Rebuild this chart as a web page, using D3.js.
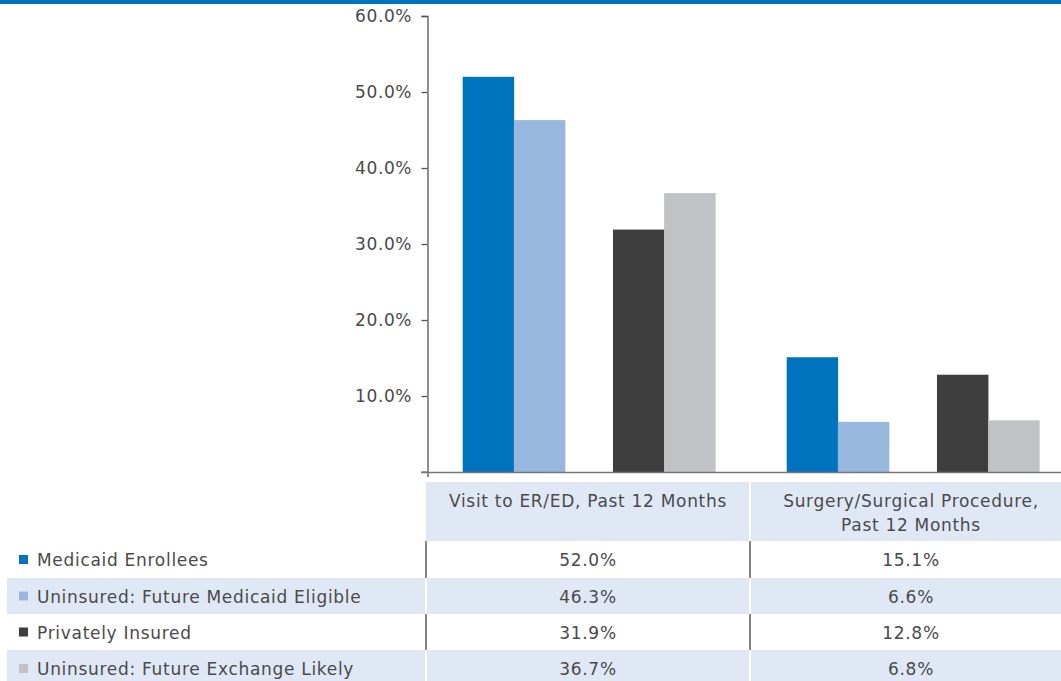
<!DOCTYPE html>
<html>
<head>
<meta charset="utf-8">
<script src="https://cdn.jsdelivr.net/npm/d3@7"></script>
<style>
  html, body { margin: 0; padding: 0; background: #fff; }
  svg { display: block; font-family: "DejaVu Sans", sans-serif; }
</style>
</head>
<body>
<svg id="chart" width="1061" height="681"></svg>
<script>
// Service use in the past 12 months, by coverage group
const categories = ["Visit to ER/ED, Past 12 Months", "Surgery/Surgical Procedure, Past 12 Months"];
const categoryLines = [["Visit to ER/ED, Past 12 Months"], ["Surgery/Surgical Procedure,", "Past 12 Months"]];
const seriesNames = ["Medicaid Enrollees", "Uninsured: Future Medicaid Eligible", "Privately Insured", "Uninsured: Future Exchange Likely"];
const seriesColors = ["#0073be", "#97b7df", "#3e3e3e", "#c1c2c6"];
const medicaidEnrollees = [52.0, 15.1];
const uninsuredMedicaidEligible = [46.3, 6.6];
const privatelyInsured = [31.9, 12.8];
const uninsuredExchangeLikely = [36.7, 6.8];
const values = [medicaidEnrollees, uninsuredMedicaidEligible, privatelyInsured, uninsuredExchangeLikely];
const yTicks = [10, 20, 30, 40, 50, 60];

const svg = d3.select("#chart");
const W = 1061;
const textColor = "#4a4a4a";
const tableBg = "#e1e8f5";
const fontSize = "17px";
const spacing = "0.7px";

// top rule
svg.append("rect").attr("x", 0).attr("y", 0).attr("width", W).attr("height", 4).attr("fill", "#0073be");

// scales
const y = d3.scaleLinear().domain([0, 60]).range([472, 16]);
const x0 = d3.scaleBand().domain(categories).range([427, 1075]).padding(0);
// bars come in two pairs per category
const pairScale = d3.scaleBand().domain([0, 1]).range([0, x0.bandwidth()])
  .paddingInner(0.319).paddingOuter(0.2375);
const memberScale = d3.scaleBand().domain([0, 1]).range([0, pairScale.bandwidth()]).padding(0);

const barX = (ci, si) => x0(categories[ci]) + pairScale(Math.floor(si / 2)) + memberScale(si % 2);

// bars
const barData = [];
values.forEach((arr, si) => arr.forEach((v, ci) => barData.push({ si, ci, v })));
svg.append("g").selectAll("rect").data(barData).join("rect")
  .attr("x", d => barX(d.ci, d.si))
  .attr("y", d => y(d.v))
  .attr("width", memberScale.bandwidth() + 0.3)
  .attr("height", d => y(0) - y(d.v))
  .attr("fill", d => seriesColors[d.si]);

// y axis
const yAxis = d3.axisLeft(y).tickValues(yTicks).tickSize(6).tickPadding(10)
  .tickFormat(d => d3.format(".1f")(d) + "%");
const gy = svg.append("g").attr("transform", "translate(427.5,0)").call(yAxis);
gy.select(".domain").attr("d", "M-6,16.5H0.5V477").attr("stroke", "#555").attr("stroke-width", 1.3);
gy.selectAll(".tick line").attr("stroke", "#555").attr("stroke-width", 1.3);
gy.selectAll(".tick text").attr("fill", textColor).style("font-size", "17px")
  .style("letter-spacing", "0.6px").attr("dx", "0.6px")
  .style("font-family", "'DejaVu Sans', sans-serif");
// zero tick
gy.append("line").attr("x1", -6).attr("x2", 0).attr("y1", y(0)).attr("y2", y(0)).attr("stroke", "#555");

// x baseline
svg.append("line").attr("x1", 421).attr("x2", W).attr("y1", y(0) + 0.5).attr("y2", y(0) + 0.5)
  .attr("stroke", "#777").attr("stroke-width", 1.5);

// data table
const headerTop = 482, headerBottom = 541;
const rowTops = [541, 578, 614, 650];
const rowH = [37, 36, 36, 37];
const colEdges = [426, 750, 1074];
const colCenters = [588, 911];

// header background
svg.append("rect").attr("x", colEdges[0]).attr("y", headerTop).attr("width", W - colEdges[0])
  .attr("height", headerBottom - headerTop).attr("fill", tableBg);

// row backgrounds (alternating)
seriesNames.forEach((name, i) => {
  if (i % 2 === 1) {
    svg.append("rect").attr("x", 7).attr("y", rowTops[i]).attr("width", W - 7)
      .attr("height", rowH[i]).attr("fill", tableBg);
  }
});

// column dividers: white on shaded rows, dark on plain rows
svg.append("line").attr("x1", colEdges[1]).attr("x2", colEdges[1]).attr("y1", headerTop).attr("y2", headerBottom)
  .attr("stroke", "#fff").attr("stroke-width", 2);
seriesNames.forEach((name, i) => {
  const shaded = i % 2 === 1;
  [colEdges[0], colEdges[1]].forEach(cx => {
    svg.append("line").attr("x1", cx).attr("x2", cx)
      .attr("y1", rowTops[i]).attr("y2", rowTops[i] + rowH[i])
      .attr("stroke", shaded ? "#fff" : "#333").attr("stroke-width", shaded ? 2 : 1.2);
  });
});

const tableText = sel => sel.attr("fill", textColor).style("font-size", fontSize)
  .style("letter-spacing", spacing);

// header labels
categories.forEach((c, ci) => {
  const t = svg.append("text").attr("text-anchor", "middle").call(tableText);
  categoryLines[ci].forEach((line, li) => {
    t.append("tspan").attr("x", colCenters[ci]).attr("y", 506.5 + li * 24).text(line);
  });
});

// legend rows + values
seriesNames.forEach((name, si) => {
  const cy = rowTops[si] + rowH[si] / 2;
  svg.append("rect").attr("x", 19).attr("y", cy - 4.5).attr("width", 9).attr("height", 9)
    .attr("fill", seriesColors[si]);
  svg.append("text").attr("x", 37).attr("y", cy + 6.5).call(tableText).text(name);
  categories.forEach((c, ci) => {
    svg.append("text").attr("x", colCenters[ci]).attr("y", cy + 6.5).attr("text-anchor", "middle")
      .call(tableText)
      .text(d3.format(".1f")(values[si][ci]) + "%");
  });
});
</script>
</body>
</html>
